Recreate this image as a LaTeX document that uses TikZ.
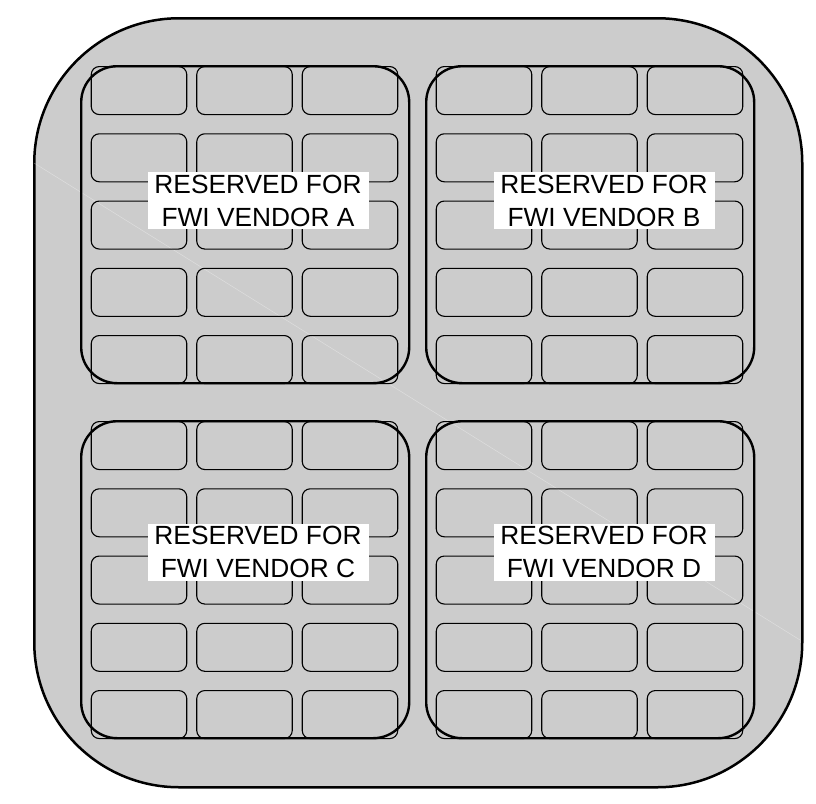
\documentclass[tikz,border=0pt]{standalone}
\usepackage{fontspec}
\setmainfont{Liberation Sans}
\definecolor{panelgray}{RGB}{204,204,204}
\begin{document}
\begin{tikzpicture}[x=1pt,y=-1pt,
  panelbox/.style={draw=black,fill=panelgray,line width=2.5pt,rounded corners=145pt,inner sep=0pt,anchor=north west,minimum width=768pt,minimum height=769pt},
  cellbox/.style={draw=black,line width=1.1pt,rounded corners=8pt,minimum width=95.5pt,minimum height=48pt,inner sep=0pt,anchor=north west},
  groupbox/.style={draw=black,line width=2.4pt,rounded corners=36pt,inner sep=0pt,anchor=north west,minimum width=328pt,minimum height=317pt},
  labelbox/.style={fill=white,inner sep=0pt,minimum width=221pt,minimum height=57pt,align=center,font=\fontsize{26.3}{33}\selectfont}]
\useasboundingbox (0,0) rectangle (816,803);
\node[panelbox] (panel) at (33,17) {};
\coordinate (glintA) at (34,163);
\coordinate (glintB) at (800,640);
\draw[white,line width=0.5pt,opacity=0.35] (glintA) -- (glintB);
\foreach \g/\ox/\oy/\lx/\ly in {A/0/0/258/200.5, B/345/0/604/200.5, C/0/355/258/552, D/345/355/604/552}{
  \foreach \r in {0,...,4}{
    \foreach \c in {0,1,2}{
      \node[cellbox] (cell\g-\r-\c) at ({\ox+90.7+\c*105.5},{\oy+66+\r*67.25}) {};
    }
  }
  \node[groupbox] (vendor\g) at ({\ox+80},{\oy+65}) {};
  \node[labelbox] (label\g) at (\lx,\ly) {RESERVED FOR\\FWI VENDOR \g};
}
\end{tikzpicture}
\end{document}
